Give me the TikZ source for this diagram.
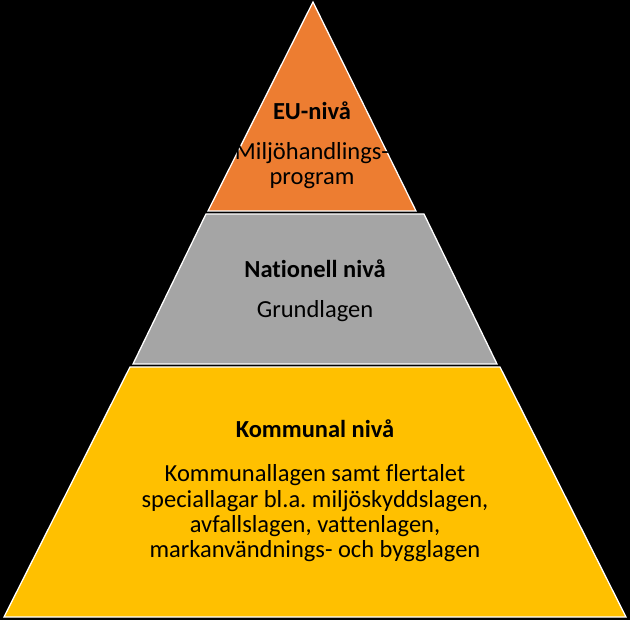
\documentclass[tikz,border=0pt]{standalone}
\usepackage{fontspec}
\setmainfont{Carlito}[Ligatures=NoCommon]
\frenchspacing
\begin{document}
\begin{tikzpicture}[x=1pt,y=-1pt,
  tier/.style={draw=white,line width=1.3pt,line join=miter},
  head/.style={font=\fontsize{24.5}{26}\selectfont\bfseries,text=black,inner sep=0pt,anchor=base},
  body/.style={font=\fontsize{24.5}{26}\selectfont,text=black,inner sep=0pt,anchor=base}]
\definecolor{eu}{HTML}{ED7D31}
\definecolor{nat}{HTML}{A5A5A5}
\definecolor{kom}{HTML}{FFC000}
\fill[black] (0,0) rectangle (630,620);
\useasboundingbox (0,0) rectangle (630,620);
% tiers
\filldraw[tier,fill=eu] (313,2) -- (416,211) -- (208,211) -- cycle;
\filldraw[tier,fill=nat] (206,214) -- (424,214) -- (497,364) -- (133,364) -- cycle;
\filldraw[tier,fill=kom] (130,367) -- (500,367) -- (626,617) -- (4,617) -- cycle;
% texts
\node[head] (euh) at (312,120) {EU-nivå};
\node[body] (eub1) at (312,160) {Miljöhandlings-};
\node[body] (eub2) at (312,185) {program};
\node[head] (nath) at (315,278) {Nationell nivå};
\node[body] (natb) at (315,318) {Grundlagen};
\node[head] (komh) at (315,438) {Kommunal nivå};
\node[body] (komb1) at (315,482) {Kommunallagen samt flertalet};
\node[body] (komb2) at (315,507.3) {speciallagar bl.a. miljöskyddslagen,};
\node[body] (komb3) at (315,532.6) {avfallslagen, vattenlagen,};
\node[body] (komb4) at (315,558) {markanvändnings- och bygglagen};
\end{tikzpicture}
\end{document}
